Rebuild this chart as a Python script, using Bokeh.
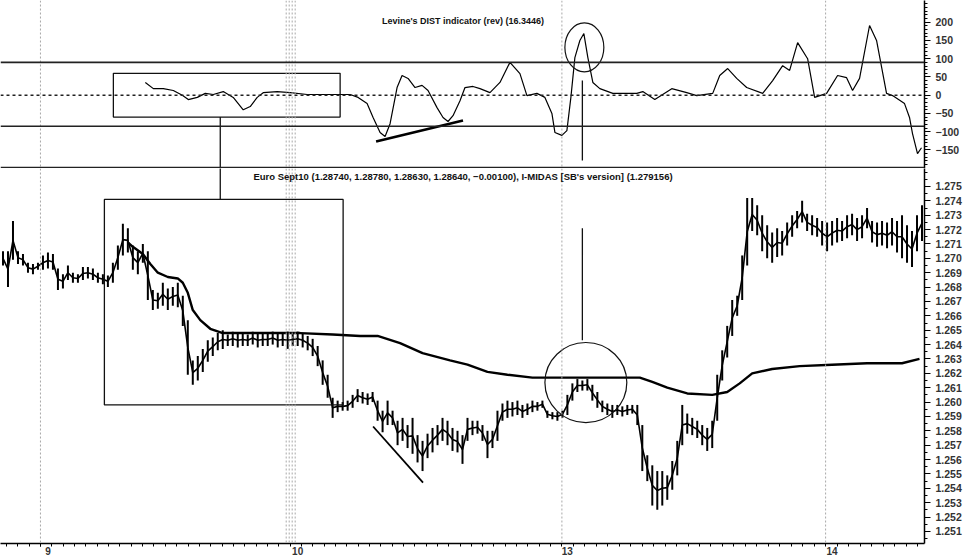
from bokeh.plotting import figure
from bokeh.layouts import column
from bokeh.models import Range1d, FixedTicker, Span, Label, NumeralTickFormatter
from bokeh.embed import file_html
from bokeh.resources import INLINE

# ---------------- data ----------------
# Euro Sept10 price bars (high / low), one per bar index
price_high = [1.2705,1.2705,1.2726,1.2705,1.2703,1.2697,1.2696,1.2697,1.2702,1.2704,
1.2703,1.2693,1.2689,1.2695,1.2690,1.2689,1.2694,1.2694,1.2693,1.2690,
1.2689,1.2688,1.2697,1.2709,1.2724,1.2721,1.2709,1.2705,1.2710,1.2705,
1.2678,1.2676,1.2683,1.2679,1.2680,1.2683,1.2674,1.2657,1.2629,1.2632,
1.2637,1.2643,1.2645,1.2648,1.2650,1.2647,1.2649,1.2648,1.2648,1.2647,
1.2649,1.2648,1.2648,1.2648,1.2649,1.2648,1.2648,1.2649,1.2648,1.2649,
1.2648,1.2646,1.2644,1.2639,1.2629,1.2619,1.2603,1.2601,1.2600,1.2601,
1.2605,1.2609,1.2607,1.2606,1.2607,1.2601,1.2594,1.2601,1.2594,1.2587,
1.2589,1.2584,1.2589,1.2577,1.2573,1.2578,1.2582,1.2584,1.2589,1.2587,
1.2582,1.2580,1.2577,1.2589,1.2587,1.2587,1.2584,1.2580,1.2580,1.2594,
1.2599,1.2601,1.2600,1.2601,1.2598,1.2599,1.2601,1.2600,1.2601,1.2594,
1.2593,1.2593,1.2594,1.2605,1.2613,1.2616,1.2615,1.2616,1.2612,1.2607,
1.2601,1.2599,1.2598,1.2598,1.2597,1.2598,1.2598,1.2598,1.2584,1.2563,
1.2556,1.2552,1.2552,1.2549,1.2559,1.2573,1.2598,1.2592,1.2589,1.2587,
1.2584,1.2582,1.2587,1.2619,1.2636,1.2653,1.2671,1.2674,1.2702,1.2742,
1.2742,1.2737,1.2730,1.2723,1.2718,1.2721,1.2719,1.2725,1.2730,1.2733,
1.2740,1.2731,1.2730,1.2728,1.2726,1.2725,1.2726,1.2728,1.2726,1.2730,
1.2731,1.2728,1.2730,1.2735,1.2726,1.2725,1.2726,1.2725,1.2728,1.2726,
1.2730,1.2723,1.2719,1.2730,1.2737]

price_low = [1.2695,1.2680,1.2699,1.2696,1.2695,1.2690,1.2689,1.2692,1.2692,1.2693,
1.2692,1.2678,1.2679,1.2685,1.2683,1.2683,1.2685,1.2686,1.2685,1.2683,
1.2682,1.2680,1.2683,1.2692,1.2702,1.2704,1.2692,1.2689,1.2697,1.2671,
1.2664,1.2665,1.2667,1.2664,1.2667,1.2666,1.2653,1.2619,1.2612,1.2615,
1.2621,1.2628,1.2632,1.2636,1.2637,1.2639,1.2639,1.2638,1.2639,1.2639,
1.2640,1.2638,1.2639,1.2639,1.2640,1.2638,1.2639,1.2637,1.2639,1.2639,
1.2638,1.2636,1.2632,1.2625,1.2612,1.2603,1.2589,1.2593,1.2594,1.2594,
1.2596,1.2600,1.2599,1.2598,1.2600,1.2587,1.2579,1.2584,1.2584,1.2570,
1.2573,1.2568,1.2564,1.2558,1.2552,1.2561,1.2565,1.2570,1.2573,1.2570,
1.2566,1.2565,1.2557,1.2573,1.2577,1.2578,1.2573,1.2561,1.2568,1.2573,
1.2587,1.2589,1.2590,1.2591,1.2589,1.2591,1.2593,1.2594,1.2596,1.2589,
1.2588,1.2587,1.2589,1.2591,1.2601,1.2607,1.2608,1.2608,1.2601,1.2596,
1.2593,1.2591,1.2589,1.2591,1.2590,1.2591,1.2592,1.2584,1.2552,1.2545,
1.2528,1.2525,1.2528,1.2532,1.2539,1.2549,1.2570,1.2578,1.2577,1.2575,
1.2570,1.2566,1.2568,1.2587,1.2615,1.2631,1.2646,1.2660,1.2671,1.2695,
1.2719,1.2716,1.2705,1.2700,1.2697,1.2701,1.2702,1.2709,1.2715,1.2721,
1.2725,1.2719,1.2716,1.2715,1.2709,1.2705,1.2709,1.2711,1.2712,1.2714,
1.2716,1.2712,1.2714,1.2721,1.2711,1.2708,1.2709,1.2707,1.2709,1.2704,
1.2700,1.2697,1.2694,1.2705,1.2712]

# I-MIDAS curve (bar index, value)
midas_x = [25, 26, 28, 29.5, 31, 33, 35, 36, 37, 38, 39.5, 41.5, 44, 59.5, 66, 71.5, 75,
           79.5, 84, 89.5, 93, 97, 101, 106, 119.5, 127.5, 130, 133, 137, 142, 145,
           147.5, 150, 154, 159.5, 166, 173, 180, 183.5]
midas_y = [1.2711, 1.2708, 1.2703, 1.2696, 1.2690, 1.2687, 1.2686, 1.2683, 1.2676, 1.2664,
           1.2657, 1.2651, 1.2648, 1.2648, 1.2647, 1.2646, 1.2646, 1.2641, 1.2634, 1.2629,
           1.2626, 1.2621, 1.2619, 1.2617, 1.2617, 1.2617, 1.2614, 1.2610, 1.2606, 1.2605,
           1.2607, 1.2613, 1.2620, 1.2623, 1.2625, 1.2626, 1.2627, 1.2627, 1.2630]

# Levine's DIST indicator (bar index, value)
dist_x = [28.5, 30.1, 32.1, 34.1, 35.9, 37.1, 38.9, 40.5, 42.1, 44.1, 46.1, 48.1, 49.5, 50.9,
          52.1, 54.9, 57.5, 60.9, 69.5, 71.1, 72.9, 74.1, 75.5, 76.5, 77.5, 78.9, 79.9, 81.1,
          82.5, 83.9, 85.1, 86.9, 88.1, 89.1, 90.1, 91.5, 92.5, 94.1, 95.5, 97.5, 99.5, 101.5,
          103.5, 104.9, 106.9, 108.5, 109.9, 110.5, 111.9, 112.9, 113.7, 114.5, 115.5, 116.3,
          117.1, 118.1, 119.5, 122.1, 126.9, 128.1, 130.5, 133.9, 136.9, 138.9, 142.1, 143.5,
          145.1, 146.9, 148.9, 152.1, 154.1, 156.1, 157.5, 159.1, 161.1, 162.5, 164.9, 167.1,
          168.9, 170.1, 171.5, 173.5, 174.9, 176.9, 178.1, 180.5, 181.5, 182.1, 183.1, 183.9]
dist_v = [35, 18, 18, 13, 0, -12, -6, 5, 2, 10, -6, -40, -31, -6,
          7, 10, 7, 2, 2, -6, -23, -61, -102, -113, -78, 21, 54, 46,
          21, 27, 13, -34, -61, -72, -56, -15, 21, 24, 18, 7, 35, 90,
          59, -1, 5, -6, -50, -102, -110, -97, -6, 103, 150, 169,
          103, 35, 18, 5, 5, 10, -12, 18, 7, -1, 5, 54,
          73, 46, 21, 5, 40, 81, 68, 144, 100, -6, 5, 54,
          48, 13, 46, 191, 150, 5, -1, -23, -61, -105, -160, -144]
dist_upper = 90
dist_lower = -85

# axes
dist_ticks = [-150, -100, -50, 0, 50, 100, 150, 200]
price_ticks = [1.251, 1.252, 1.253, 1.254, 1.255, 1.256, 1.257, 1.258, 1.259, 1.260,
               1.261, 1.262, 1.263, 1.264, 1.265, 1.266, 1.267, 1.268, 1.269, 1.270,
               1.271, 1.272, 1.273, 1.274, 1.275]
day_pos = [7.5, 57.5, 111.9, 164.7]
day_label_pos = [9, 59, 113, 166]
day_labels = ["9", "10", "13", "14"]

# hand-drawn annotations
top_box = dict(left=22.1, right=67.5, top=60, bottom=-60)
main_box = dict(left=20.3, right=68.1, top=1.2741, bottom=1.2598)
box_link_x = 43.5
top_circle = dict(x=116.4, y=131, w=7.8, h=134)
main_circle = dict(x=116.7, y=1.26136, w=16.4, h=0.00557)
circle_link_x = 116.0
circle_link_top = (40, -179)
circle_link_main = (1.2721, 1.2643)
trend_top = dict(x0=74.7, y0=-127, x1=92.1, y1=-69)
trend_main = dict(x0=74.1, y0=1.2583, x1=84.1, y1=1.2544)

title_top = "Levine's DIST indicator (rev) (16.3446)"
title_main = "Euro Sept10 (1.28740, 1.28780, 1.28630, 1.28640, \u22120.00100), I-MIDAS [SB's version] (1.279156)"

# ---------------- drawing ----------------
FONT = "Liberation Sans"
W = 964
bar_x = list(range(len(price_high)))
price_mid = [(h + l) / 2 for h, l in zip(price_high, price_low)]
xr = Range1d(-0.5, 184.5)


def style_yaxis(p, ticker):
    ax = p.yaxis[0]
    ax.ticker = ticker
    ax.axis_line_width = 1.5
    ax.axis_line_color = "black"
    ax.major_tick_out = 6
    ax.major_tick_in = 0
    ax.minor_tick_out = 3
    ax.minor_tick_in = 0
    ax.major_tick_line_color = "black"
    ax.minor_tick_line_color = "black"
    ax.major_label_standoff = 5
    ax.major_label_text_font = FONT
    ax.major_label_text_font_size = "10.5px"
    ax.major_label_text_font_style = "bold"
    ax.major_label_text_color = "#333333"


def day_lines(p):
    for d in day_pos:
        offs = [-0.8, -0.2, 0.4, 1.0] if d == day_pos[1] else [0]
        for o in offs:
            p.add_layout(Span(location=d + o, dimension="height", line_color="#a8a8a8",
                              line_dash="2 2", line_width=1))


# --- top panel: DIST indicator ---
p1 = figure(width=W, height=168, x_range=xr, y_range=Range1d(-200.8, 259.5),
            output_backend="svg", toolbar_location=None, x_axis_location=None,
            y_axis_location="right", min_border_left=0, min_border_top=0,
            min_border_bottom=0, min_border_right=39)
p1.outline_line_color = None
p1.grid.visible = False
style_yaxis(p1, FixedTicker(ticks=dist_ticks, minor_ticks=list(range(-200, 260, 10))))
day_lines(p1)

p1.add_layout(Span(location=dist_upper, dimension="width", line_color="#222222", line_width=1.6))
p1.add_layout(Span(location=dist_lower, dimension="width", line_color="#222222", line_width=1.6))
p1.add_layout(Span(location=0, dimension="width", line_color="#222222", line_width=1.5, line_dash="3 3"))
p1.add_layout(Span(location=-198.3, dimension="width", line_color="#222222", line_width=1.6))

p1.line(dist_x, dist_v, line_color="black", line_width=1.2)
p1.quad(left=[top_box["left"]], right=[top_box["right"]], top=[top_box["top"]],
        bottom=[top_box["bottom"]], fill_color=None, line_color="#111111", line_width=1.3)
p1.segment(x0=[box_link_x], y0=[top_box["bottom"]], x1=[box_link_x], y1=[-201],
           line_color="#111111", line_width=1.3)
p1.ellipse(x=[top_circle["x"]], y=[top_circle["y"]], width=[top_circle["w"]],
           height=[top_circle["h"]], fill_color=None, line_color="#111111", line_width=1.2)
p1.segment(x0=[circle_link_x], y0=[circle_link_top[0]], x1=[circle_link_x],
           y1=[circle_link_top[1]], line_color="#111111", line_width=1.3)
p1.segment(x0=[trend_top["x0"]], y0=[trend_top["y0"]], x1=[trend_top["x1"]],
           y1=[trend_top["y1"]], line_color="black", line_width=2.6)
p1.add_layout(Label(x=92.1, y=204.7, text=title_top, text_font=FONT, text_font_size="9px",
                    text_font_style="bold", text_align="center", text_baseline="middle",
                    text_color="#111111"))

# --- bottom panel: price ---
p2 = figure(width=W, height=557 - 168, x_range=xr, y_range=Range1d(1.25016, 1.27625),
            output_backend="svg", toolbar_location=None, y_axis_location="right",
            min_border_left=0, min_border_top=0, min_border_bottom=0, min_border_right=39)
p2.outline_line_color = None
p2.grid.visible = False
style_yaxis(p2, FixedTicker(ticks=price_ticks,
                            minor_ticks=[1.2505 + 0.0005 * k for k in range(53)]))
p2.yaxis[0].formatter = NumeralTickFormatter(format="0.000")

hour_ticks = []
t = day_pos[0]
while t > xr.start:
    hour_ticks.append(t)
    t -= 2.27
for a, b in zip(day_pos[:-1], day_pos[1:]):
    n = round((b - a) / 2.3)
    hour_ticks += [a + (b - a) * k / n for k in range(n)]
t = day_pos[-1]
while t < xr.end:
    hour_ticks.append(t)
    t += 2.3

xa = p2.xaxis[0]
xa.ticker = FixedTicker(ticks=day_label_pos, minor_ticks=hour_ticks)
xa.major_label_overrides = {k: v for k, v in zip(day_label_pos, day_labels)}
xa.axis_line_width = 1.5
xa.axis_line_color = "black"
xa.major_tick_line_color = None
xa.major_tick_out = 0
xa.major_tick_in = 0
xa.minor_tick_out = 3
xa.minor_tick_in = 0
xa.minor_tick_line_color = "black"
xa.major_label_standoff = 0
xa.major_label_text_font = FONT
xa.major_label_text_font_size = "10px"
xa.major_label_text_font_style = "bold"
xa.major_label_text_color = "#333333"
day_lines(p2)

p2.segment(x0=bar_x, y0=price_low, x1=bar_x, y1=price_high, line_color="black", line_width=2.0)
p2.line(bar_x, price_mid, line_color="black", line_width=1.6)
p2.line(midas_x, midas_y, line_color="black", line_width=2.4)

p2.quad(left=[main_box["left"]], right=[main_box["right"]], top=[main_box["top"]],
        bottom=[main_box["bottom"]], fill_color=None, line_color="#111111", line_width=1.3)
p2.segment(x0=[box_link_x], y0=[1.2765], x1=[box_link_x], y1=[main_box["top"]],
           line_color="#111111", line_width=1.3)
p2.ellipse(x=[main_circle["x"]], y=[main_circle["y"]], width=[main_circle["w"]],
           height=[main_circle["h"]], fill_color=None, line_color="#111111", line_width=1.2)
p2.segment(x0=[circle_link_x], y0=[circle_link_main[0]], x1=[circle_link_x],
           y1=[circle_link_main[1]], line_color="#111111", line_width=1.3)
p2.segment(x0=[trend_main["x0"]], y0=[trend_main["y0"]], x1=[trend_main["x1"]],
           y1=[trend_main["y1"]], line_color="black", line_width=1.8)
p2.add_layout(Label(x=92.1, y=1.2757, text=title_main, text_font=FONT, text_font_size="9.5px",
                    text_font_style="bold", text_align="center", text_baseline="middle",
                    text_color="#111111"))

layout = column(p1, p2, spacing=0)
open("out.html", "w").write(file_html(layout, INLINE))
